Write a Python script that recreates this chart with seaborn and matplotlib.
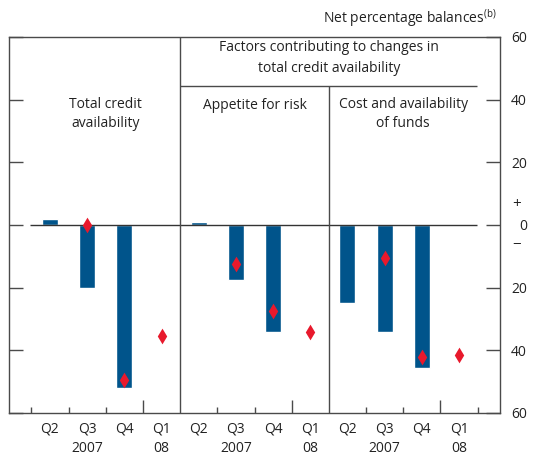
import numpy as np
import pandas as pd
import matplotlib
matplotlib.use("Agg")
import matplotlib.pyplot as plt
import matplotlib.transforms as mtransforms
import seaborn as sns

# ---- data -------------------------------------------------------------
quarters = ["Q2", "Q3", "Q4", "Q1"]
year_labels = ["", "2007", "", "08"]
panels = ["Total credit\navailability", "Appetite for risk", "Cost and availability\nof funds"]
header = "Factors contributing to changes in\ntotal credit availability"

bars_total = [2, -20, -52, np.nan]
diam_total = [np.nan, 0, -49.5, -35.5]
bars_risk = [1, -17.5, -34, np.nan]
diam_risk = [np.nan, -12.5, -27.5, -34]
bars_cost = [-25, -34, -45.5, np.nan]
diam_cost = [np.nan, -10.5, -42, -41.5]

y_ticks = [-60, -40, -20, 0, 20, 40, 60]
y_ticklabels = ["60", "40", "20", "0", "20", "40", "60"]

BLUE = "#00548B"
RED = "#E8192C"
FRAME = "#4a4a4a"
TEXT = "#222222"

# ---- build tables -----------------------------------------------------
rows_b, rows_d = [], []
for p, (b, d) in enumerate([(bars_total, diam_total), (bars_risk, diam_risk), (bars_cost, diam_cost)]):
    for q in range(4):
        pos = p * 4 + q
        if not np.isnan(b[q]):
            rows_b.append({"pos": pos, "value": b[q]})
        if not np.isnan(d[q]):
            rows_d.append({"pos": pos, "value": d[q]})
df_b = pd.DataFrame(rows_b)
df_d = pd.DataFrame(rows_d)

# ---- figure -----------------------------------------------------------
sns.set_style("white")
plt.rcParams["font.family"] = ["Open Sans", "DejaVu Sans"]
plt.rcParams["mathtext.fontset"] = "custom"
plt.rcParams["mathtext.rm"] = "Open Sans"

W, H = 533, 455
fig = plt.figure(figsize=(W / 100, H / 100), dpi=100)
ax = fig.add_axes([9 / W, (H - 413) / H, (500 - 9) / W, (413 - 37) / H])

sns.barplot(data=df_b, x="pos", y="value", native_scale=True, orient="x",
            width=0.43, color=BLUE, saturation=1, errorbar=None, ax=ax, zorder=2)
sns.scatterplot(data=df_d, x="pos", y="value", marker="d", s=64, color=RED,
                linewidth=0, ax=ax, zorder=4)

ax.set_xlim(-1.1, 12.1)
ax.set_ylim(-60, 60)
ax.set_xlabel("")
ax.set_ylabel("")

for s in ax.spines.values():
    s.set_color(FRAME)
    s.set_linewidth(1.0)

# zero line and panel dividers
ax.hlines(0, -0.53, 11.48, color="#333333", lw=1.0, zorder=3)
ax.vlines(3.5, -60, 60, color=FRAME, lw=1.0, zorder=3)
ax.vlines(7.5, -60, 44.4, color=FRAME, lw=1.0, zorder=3)
ax.hlines(44.4, 3.5, 11.48, color=FRAME, lw=1.0, zorder=3)

# x ticks: boundaries (major), labels at centres (minor)
bounds = [-0.5, 0.5, 1.5, 2.5, 4.5, 5.5, 6.5, 8.5, 9.5, 10.5, 11.5]
tall = {2.5, 6.5, 10.5}
ax.set_xticks(bounds)
ax.set_xticklabels([""] * len(bounds))
ax.tick_params(axis="x", which="major", direction="in", length=4.3, width=1.0,
               color=FRAME, bottom=True, top=False)
for t, loc in zip(ax.xaxis.get_major_ticks(), bounds):
    if loc in tall:
        t.tick1line.set_markersize(9.4)

centres = list(range(12))
labels = []
for p in range(3):
    for q in range(4):
        lab = quarters[q]
        if year_labels[q]:
            lab += "\n" + year_labels[q]
        labels.append(lab)
ax.set_xticks(centres, minor=True)
ax.set_xticklabels(labels, minor=True, fontsize=10, color=TEXT, linespacing=1.42)
ax.tick_params(axis="x", which="minor", length=0, pad=6)

# y ticks: inward both sides, labels on right
ax.set_yticks(y_ticks)
ax.set_yticklabels(y_ticklabels)
ax.tick_params(axis="y", direction="in", length=10, width=1.0, color=FRAME,
               left=True, right=True, labelleft=False, labelright=True,
               labelsize=10, labelcolor=TEXT, pad=19.5)
for t in ax.yaxis.get_major_ticks():
    t.label2.set_horizontalalignment("right")

trans = mtransforms.blended_transform_factory(ax.transAxes, ax.transData)
ax.text(1.0346, 6.7, "+", transform=trans, ha="center", va="center", fontsize=11, color=TEXT)
ax.text(1.0346, -6.7, "\u2212", transform=trans, ha="center", va="center", fontsize=11, color=TEXT)

# panel texts
ax.text(1.5, 35.4, panels[0], ha="center", va="center", fontsize=10, color=TEXT, linespacing=1.4)
ax.text(5.5, 38.2, panels[1], ha="center", va="center", fontsize=10, color=TEXT)
ax.text(9.5, 35.4, panels[2], ha="center", va="center", fontsize=10, color=TEXT, linespacing=1.4)
ax.text(7.5, 53.3, header, ha="center", va="center", fontsize=10, color=TEXT, linespacing=1.5)

fig.text(497 / W, 1 - 18 / H, r"Net percentage balances$^{\mathrm{(b)}}$",
         ha="right", va="center", fontsize=10, color=TEXT)

fig.savefig("out.png", dpi=100)
